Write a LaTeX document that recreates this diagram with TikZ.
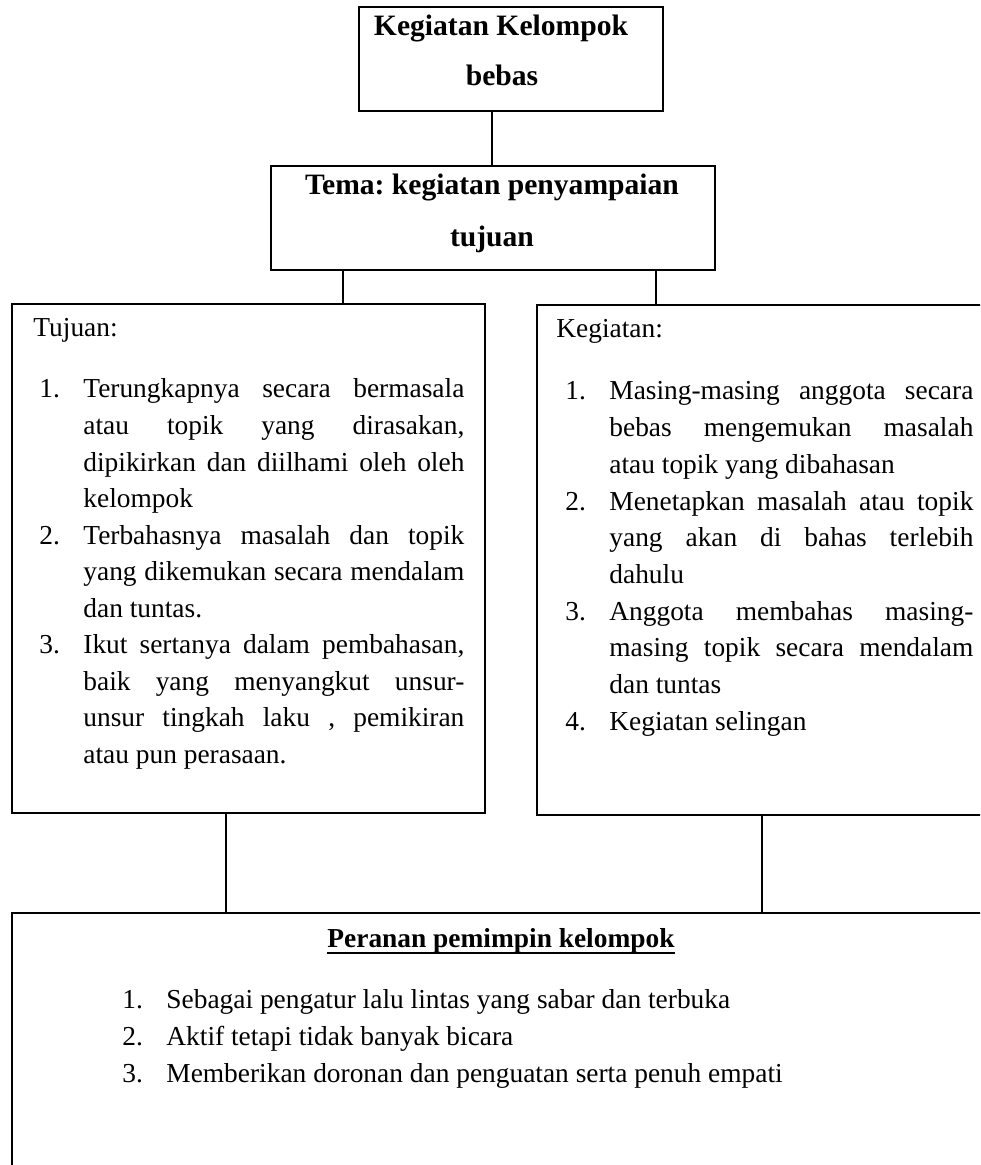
\documentclass[tikz,border=0pt]{standalone}
\usepackage{fontspec}
\setmainfont{Liberation Serif}
\frenchspacing
\newcommand\bodyfont{\fontsize{13.7}{16}\selectfont}
\newcommand\titlefont{\fontsize{14.8}{17}\selectfont\bfseries}
\newcommand\JT[1]{\makebox[190.5pt][s]{#1}}
\newcommand\JK[1]{\makebox[182pt][s]{#1}}
\tikzset{
  box/.style={draw, line width=1pt, rectangle, inner sep=0pt, anchor=north west},
  link/.style={line width=0.65pt},
  txt/.style={inner sep=0pt, anchor=base west, font=\bodyfont},
  ttl/.style={inner sep=0pt, anchor=base, font=\titlefont},
}
\begin{document}
\begin{tikzpicture}[x=0.5pt,y=-0.5pt]
\useasboundingbox (0,0) rectangle (980,1165);
\clip (0,0) rectangle (980,1165);
\fill[white] (0,0) rectangle (980,1165);
% boxes
\node[box, minimum width=152pt, minimum height=52pt] (top) at (358,6) {};
\node[box, minimum width=222pt, minimum height=52pt] (tema) at (270,165) {};
\node[box, minimum width=236.5pt, minimum height=254.5pt] (tuj) at (11,303) {};
\node[box, minimum width=232pt, minimum height=255pt] (keg) at (536,304) {};
\node[box, minimum width=494.5pt, minimum height=144pt] (bot) at (11,912) {};
% connectors
\coordinate (c1) at (492,0);
\coordinate (c2) at (343,0);
\coordinate (c3) at (656,0);
\coordinate (c4) at (226,0);
\coordinate (c5) at (762,0);
\draw[link] (c1 |- top.south) -- (c1 |- tema.north);
\draw[link] (c2 |- tema.south) -- (c2 |- tuj.north);
\draw[link] (c3 |- tema.south) -- (c3 |- keg.north);
\draw[link] (c4 |- tuj.south) -- (c4 |- bot.north);
\draw[link] (c5 |- keg.south) -- (c5 |- bot.north);
% titles
\node[ttl] (k1) at (501,36) {Kegiatan Kelompok};
\node[ttl] (k2) at (502,86) {bebas};
\node[ttl] (m1) at (492,195) {Tema: kegiatan penyampaian};
\node[ttl] (m2) at (492,247) {tujuan};
% Tujuan box
\node[txt] (th) at (33,337) {Tujuan:};
\node[txt] (tn1) at (39,398) {1.};
\node[txt] (tn2) at (39,544) {2.};
\node[txt] (tn3) at (39,653.5) {3.};
\node[txt] (tl0) at (83,398)   {\JT{Terungkapnya secara bermasala}};
\node[txt] (tl1) at (83,434.5) {\JT{atau topik yang dirasakan,}};
\node[txt] (tl2) at (83,471)   {\JT{dipikirkan dan diilhami oleh oleh}};
\node[txt] (tl3) at (83,507.5) {kelompok};
\node[txt] (tl4) at (83,544)   {\JT{Terbahasnya masalah dan topik}};
\node[txt] (tl5) at (83,580.5) {\JT{yang dikemukan secara mendalam}};
\node[txt] (tl6) at (83,617)   {dan tuntas.};
\node[txt] (tl7) at (83,653.5) {\JT{Ikut sertanya dalam pembahasan,}};
\node[txt] (tl8) at (83,690)   {\JT{baik yang menyangkut unsur-}};
\node[txt] (tl9) at (83,726.5) {\JT{unsur tingkah laku , pemikiran}};
\node[txt] (tl10) at (83,763)  {atau pun perasaan.};
% Kegiatan box
\node[txt] (kh) at (556,338) {Kegiatan:};
\node[txt] (kn1) at (565,400) {1.};
\node[txt] (kn2) at (565,510.1) {2.};
\node[txt] (kn3) at (565,620.2) {3.};
\node[txt] (kn4) at (565,730.3) {4.};
\node[txt] (kl0) at (609,400)   {\JK{Masing-masing anggota secara}};
\node[txt] (kl1) at (609,436.7) {\JK{bebas mengemukan masalah}};
\node[txt] (kl2) at (609,473.4) {atau topik yang dibahasan};
\node[txt] (kl3) at (609,510.1) {\JK{Menetapkan masalah atau topik}};
\node[txt] (kl4) at (609,546.8) {\JK{yang akan di bahas terlebih}};
\node[txt] (kl5) at (609,583.5) {dahulu};
\node[txt] (kl6) at (609,620.2) {\JK{Anggota membahas masing-}};
\node[txt] (kl7) at (609,656.9) {\JK{masing topik secara mendalam}};
\node[txt] (kl8) at (609,693.6) {dan tuntas};
\node[txt] (kl9) at (609,730.3) {Kegiatan selingan};
% bottom box
\node[ttl, font=\bodyfont\bfseries] (pt) at (501,947) {Peranan pemimpin kelompok};
\draw[line width=1pt] ([yshift=-3pt]pt.base west) -- ([yshift=-3pt]pt.base east);
\node[txt] (pn1) at (122,1008) {1.};
\node[txt] (pn2) at (122,1045) {2.};
\node[txt] (pn3) at (122,1082) {3.};
\node[txt] (pl1) at (166,1008) {Sebagai pengatur lalu lintas yang sabar dan terbuka};
\node[txt] (pl2) at (166,1045) {Aktif tetapi tidak banyak bicara};
\node[txt] (pl3) at (166,1082) {Memberikan doronan dan penguatan serta penuh empati};
\end{tikzpicture}
\end{document}
